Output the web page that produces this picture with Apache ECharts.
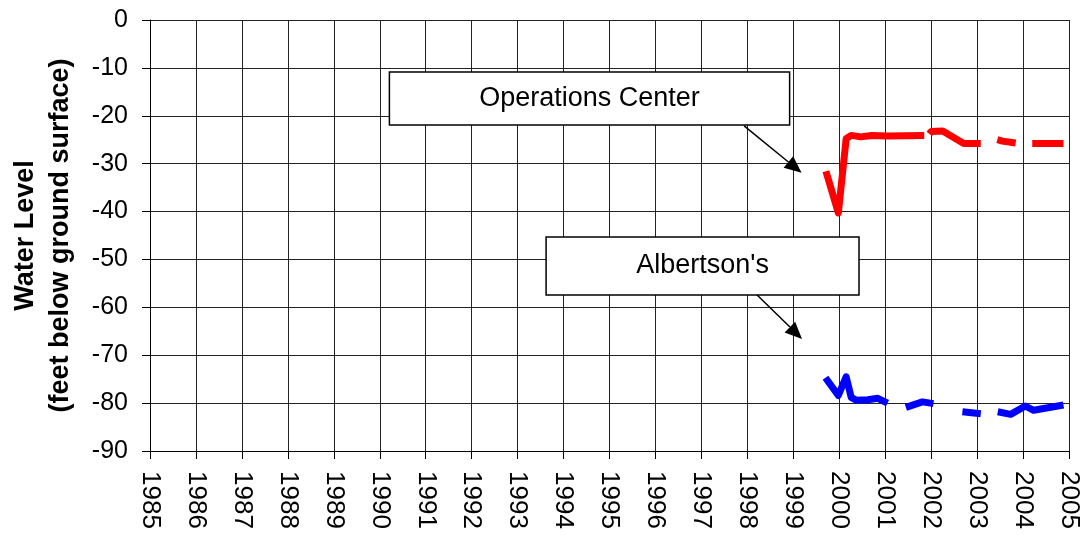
<!DOCTYPE html>
<html>
<head>
<meta charset="utf-8">
<script src="https://cdn.jsdelivr.net/npm/echarts@6/dist/echarts.min.js"></script>
<style>
  html, body { margin: 0; padding: 0; background: #ffffff; }
  #chart { width: 1082px; height: 535px; }
</style>
</head>
<body>
<div id="chart"></div>
<script>
// Water level readings, [decimal year, level in feet]; null marks a gap in the record
const operationsCenter = [
  [1999.71, -31.6], [1999.98, -40.3], [2000.15, -24.8], [2000.26, -24.1],
  [2000.47, -24.4], [2000.70, -24.1], [2001.05, -24.2], [2001.85, -24.1],
  [2001.90, null],
  [2001.96, -23.8], [2002.00, -23.3], [2002.25, -23.2], [2002.71, -25.8],
  [2003.08, -25.8],
  [2003.25, null],
  [2003.44, -25.0], [2003.55, -25.3], [2003.84, -25.7],
  [2004.00, null],
  [2004.20, -25.8], [2004.88, -25.8]
];

const albertsons = [
  [1999.70, -74.7], [1999.98, -78.4], [2000.15, -74.5], [2000.26, -78.8],
  [2000.37, -79.4], [2000.62, -79.3], [2000.84, -79.0], [2001.05, -80.0],
  [2001.25, null],
  [2001.45, -80.9], [2001.81, -79.75], [2002.05, -80.1],
  [2002.40, null],
  [2002.68, -81.8], [2003.08, -82.2],
  [2003.25, null],
  [2003.45, -81.8], [2003.73, -82.35], [2004.05, -80.6], [2004.23, -81.5],
  [2004.88, -80.4]
];

// Axis ranges
const yearRange = [1985, 2005];
const levelRange = [-90, 0];

// Callout boxes with their arrows, in data units
const callouts = [
  { text: 'Operations Center', box: [1990.21, -10.86, 1998.92, -21.9], from: [1997.93, -22.1], to: [1999.18, -31.9] },
  { text: "Albertson's",       box: [1993.62, -45.3, 2000.43, -57.4],  from: [1998.19, -57.2], to: [1999.19, -66.6] }
];

const FONT = "'Liberation Sans', Arial, sans-serif";

const chart = echarts.init(document.getElementById('chart'), null, { renderer: 'canvas' });

const option = {
  backgroundColor: '#ffffff',
  animation: false,
  grid: { left: 147, right: 13, top: 20, bottom: 84 },
  xAxis: {
    type: 'value',
    min: yearRange[0],
    max: yearRange[1],
    interval: 1,
    axisLine: { show: true, onZero: false, lineStyle: { color: '#000', width: 1 } },
    axisTick: { show: true, length: 8, lineStyle: { color: '#000', width: 1 } },
    axisLabel: {
      rotate: -90, margin: 20, color: '#000', fontSize: 26, fontFamily: FONT,
      formatter: v => String(v)
    },
    splitLine: { show: true, lineStyle: { color: '#222', width: 1 } }
  },
  yAxis: {
    type: 'value',
    min: levelRange[0],
    max: levelRange[1],
    interval: 10,
    name: 'Water Level\n(feet below ground surface)',
    nameLocation: 'middle',
    nameGap: 72,
    nameTextStyle: { fontSize: 27, fontWeight: 'bold', fontFamily: FONT, color: '#000', lineHeight: 35 },
    axisLine: { show: true, lineStyle: { color: '#000', width: 1 } },
    axisTick: { show: true, length: 8, lineStyle: { color: '#000', width: 1 } },
    axisLabel: { margin: 22, color: '#000', fontSize: 25, fontFamily: FONT },
    splitLine: { show: true, lineStyle: { color: '#222', width: 1 } }
  },
  series: [
    {
      name: 'Operations Center', type: 'line', data: operationsCenter,
      showSymbol: false, connectNulls: false,
      lineStyle: { color: '#ff0000', width: 7, cap: 'butt', join: 'round' }
    },
    {
      name: "Albertson's", type: 'line', data: albertsons,
      showSymbol: false, connectNulls: false,
      lineStyle: { color: '#0000ff', width: 7, cap: 'butt', join: 'round' }
    }
  ]
};

chart.setOption(option);

// Callouts: white labelled box plus a black arrow pointing at each well's trace
const px = p => chart.convertToPixel({ gridIndex: 0 }, p);
const graphics = [];
callouts.forEach(c => {
  const a = px([c.box[0], c.box[1]]);
  const b = px([c.box[2], c.box[3]]);
  const s = px(c.from);
  const t = px(c.to);
  const dx = t[0] - s[0], dy = t[1] - s[1];
  const len = Math.hypot(dx, dy);
  const ux = dx / len, uy = dy / len;
  const headLen = 17, headHalf = 7.5;
  const bx = t[0] - ux * headLen, by = t[1] - uy * headLen;
  graphics.push({
    type: 'line', z: 100,
    shape: { x1: s[0], y1: s[1], x2: bx, y2: by },
    style: { stroke: '#000', lineWidth: 1.5 }
  });
  graphics.push({
    type: 'polygon', z: 100,
    shape: { points: [[t[0], t[1]], [bx - uy * headHalf, by + ux * headHalf], [bx + uy * headHalf, by - ux * headHalf]] },
    style: { fill: '#000' }
  });
  graphics.push({
    type: 'rect', z: 101,
    shape: { x: a[0], y: a[1], width: b[0] - a[0], height: b[1] - a[1] },
    style: { fill: '#ffffff', stroke: '#000', lineWidth: 1.5 }
  });
  graphics.push({
    type: 'text', z: 102,
    x: (a[0] + b[0]) / 2, y: (a[1] + b[1]) / 2,
    style: { text: c.text, fill: '#000', font: '27px ' + FONT, align: 'center', verticalAlign: 'middle' }
  });
});
chart.setOption({ graphic: graphics });
</script>
</body>
</html>
